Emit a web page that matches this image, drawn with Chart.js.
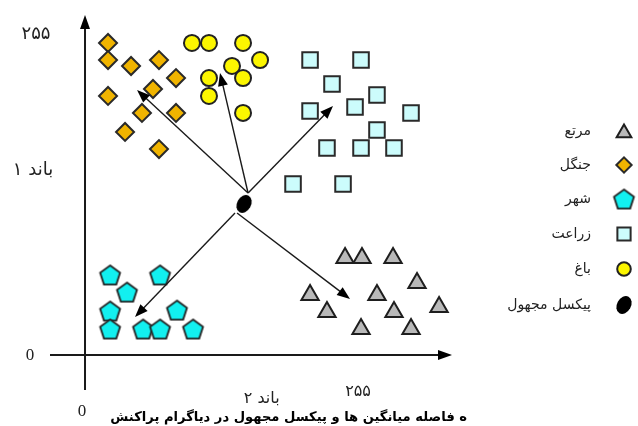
<!DOCTYPE html>
<html>
<head>
<meta charset="utf-8">
<script src="https://cdn.jsdelivr.net/npm/chart.js@4.4.0/dist/chart.umd.min.js"></script>
<style>
  body { margin: 0; background: #fff; }
  #scatterChart { display: block; }
</style>
</head>
<body>
<canvas id="scatterChart" width="638" height="426"></canvas>
<script>
// band 2 on x, band 1 on y (0..255)
var martaX = [242.9, 258.7, 287.7, 310.1, 210.2, 272.7, 226.0, 288.6, 330.7, 257.8, 304.5];
var martaY = [77.1, 77.1, 77.1, 57.2, 47.7, 47.7, 34.2, 34.2, 38.1, 20.7, 20.7];

var jangalX = [21.5, 21.5, 43.0, 69.1, 85.0, 21.5, 63.5, 53.2, 85.0, 37.4, 69.1];
var jangalY = [247.9, 234.3, 229.6, 234.3, 220.0, 205.8, 211.3, 192.3, 192.3, 177.2, 163.6];

var shahrX = [23.4, 70.1, 39.2, 23.4, 85.9, 23.4, 54.2, 70.1, 100.9];
var shahrY = [63.6, 63.6, 50.0, 35.0, 35.7, 20.7, 20.7, 20.7, 20.7];

var zeraatX = [210.2, 257.8, 230.7, 272.7, 252.2, 210.2, 304.5, 272.7, 226.0, 257.8, 288.6, 194.3, 241.0];
var zeraatY = [234.3, 234.3, 215.3, 206.5, 197.0, 193.8, 192.3, 178.7, 164.4, 164.4, 164.4, 135.8, 135.8];

var baghX = [99.9, 115.8, 147.6, 163.5, 137.3, 115.8, 147.6, 115.8, 147.6];
var baghY = [247.9, 247.9, 247.9, 234.3, 229.6, 220.0, 220.0, 205.8, 192.3];

var unknownX = [148.5];
var unknownY = [120.0];

// arrows from the unknown pixel towards each class
var arrowFromX = [152.3, 152.3, 152.3, 140.1, 142.0];
var arrowFromY = [128.7, 128.7, 128.7, 112.8, 112.8];
var arrowToX = [48.6, 126.1, 231.6, 46.7, 247.5];
var arrowToY = [210.5, 224.0, 197.8, 30.2, 44.5];

var classLabels = ["مرتع", "جنگل", "شهر", "زراعت", "باغ", "پیکسل مجهول"];
var axisTicks = ["0", "۲۵۵"];
var axisTitles = ["باند ۱", "باند ۲"];
var captionText = "ه فاصله میانگین ها و پیکسل مجهول در دیاگرام پراکنش";

function toPoints(xs, ys) {
  return xs.map(function (x, i) { return { x: x, y: ys[i] }; });
}

function makePentagon(R) {
  var c = document.createElement("canvas");
  var s = Math.ceil(R * 2 + 4);
  c.width = s; c.height = s;
  var g = c.getContext("2d");
  g.translate(s / 2, s / 2 + R * 0.1);
  g.beginPath();
  for (var i = 0; i < 5; i++) {
    var a = -Math.PI / 2 + i * 2 * Math.PI / 5;
    if (i === 0) g.moveTo(R * Math.cos(a), R * Math.sin(a));
    else g.lineTo(R * Math.cos(a), R * Math.sin(a));
  }
  g.closePath();
  g.fillStyle = "#12f0f0";
  g.fill();
  g.lineWidth = 1.8;
  g.strokeStyle = "#222";
  g.stroke();
  return c;
}

function makeBlob() {
  var c = document.createElement("canvas");
  c.width = 22; c.height = 24;
  var g = c.getContext("2d");
  g.translate(11, 12);
  g.rotate(0.5);
  g.beginPath();
  g.ellipse(0, 0, 7, 9.5, 0, 0, Math.PI * 2);
  g.fillStyle = "#000";
  g.fill();
  return c;
}

var pentagonImg = makePentagon(10.5);
var blobImg = makeBlob();

var diagramPlugin = {
  id: "diagram",
  afterDatasetsDraw: function (chart) {
    var ctx = chart.ctx;
    var xs = chart.scales.x;
    var ys = chart.scales.y;
    var px = function (v) { return xs.getPixelForValue(v); };
    var py = function (v) { return ys.getPixelForValue(v); };

    function arrow(x1, y1, x2, y2, head, width) {
      var ang = Math.atan2(y2 - y1, x2 - x1);
      ctx.beginPath();
      ctx.moveTo(x1, y1);
      ctx.lineTo(x2 - Math.cos(ang) * head * 0.8, y2 - Math.sin(ang) * head * 0.8);
      ctx.stroke();
      ctx.beginPath();
      ctx.moveTo(x2, y2);
      ctx.lineTo(x2 - head * Math.cos(ang) + width * Math.sin(ang), y2 - head * Math.sin(ang) - width * Math.cos(ang));
      ctx.lineTo(x2 - head * Math.cos(ang) - width * Math.sin(ang), y2 - head * Math.sin(ang) + width * Math.cos(ang));
      ctx.closePath();
      ctx.fill();
    }

    ctx.save();
    ctx.strokeStyle = "#1a1a1a";
    ctx.fillStyle = "#000";

    // axes
    ctx.lineWidth = 2;
    arrow(px(-32.7), py(0), px(342.8), py(0), 14, 5);
    arrow(px(0), py(-27.8), px(0), py(270.1), 14, 5);

    // distance arrows
    ctx.lineWidth = 1.4;
    for (var i = 0; i < arrowToX.length; i++) {
      arrow(px(arrowFromX[i]), py(arrowFromY[i]), px(arrowToX[i]), py(arrowToY[i]), 13, 5);
    }

    // axis labels
    ctx.fillStyle = "#222";
    ctx.textAlign = "center";
    ctx.textBaseline = "middle";
    ctx.font = "17px 'Liberation Serif'";
    ctx.fillText(axisTicks[0], px(0) - 55, py(0) + 1);
    ctx.fillText(axisTicks[0], px(0) - 3, py(0) + 57);
    ctx.direction = "rtl";
    ctx.font = "18px 'DejaVu Sans'";
    ctx.fillText(axisTicks[1], px(0) - 49, py(255));
    ctx.fillText(axisTitles[0], px(0) - 52, py(147));
    ctx.font = "16px 'DejaVu Sans'";
    ctx.fillText(axisTicks[1], px(255), py(0) + 37);
    ctx.fillText(axisTitles[1], px(165), py(0) + 44);

    // legend
    var rowY = [131, 165, 199, 234, 269, 305];
    ctx.textAlign = "right";
    ctx.font = "14px 'DejaVu Sans'";
    chart.data.datasets.forEach(function (ds, k) {
      ctx.fillStyle = "#222";
      ctx.fillText(classLabels[k], 591, rowY[k]);
      ctx.fillStyle = ds.backgroundColor;
      ctx.strokeStyle = ds.borderColor;
      ctx.lineWidth = ds.borderWidth;
      Chart.helpers.drawPoint(ctx, {
        pointStyle: ds.pointStyle,
        radius: ds.pointRadius * 0.85,
        rotation: 0,
        borderWidth: ds.borderWidth
      }, 624, rowY[k] + (k === 0 ? 2 : 0));
    });

    // caption (bold, cut off at bottom)
    ctx.fillStyle = "#000";
    ctx.font = "bold 16px 'DejaVu Sans'";
    var w = ctx.measureText(captionText).width;
    var size = 16 * 357 / w;
    ctx.font = "bold " + size.toFixed(1) + "px 'DejaVu Sans'";
    ctx.textAlign = "right";
    ctx.textBaseline = "alphabetic";
    ctx.fillText(captionText, 467, 421);
    ctx.restore();
  }
};

var scatterChart = new Chart(document.getElementById("scatterChart"), {
  type: "scatter",
  data: {
    datasets: [
      {
        label: classLabels[0],
        data: toPoints(martaX, martaY),
        pointStyle: "triangle",
        pointRadius: 10,
        backgroundColor: "#b9b9b9",
        borderColor: "#1e1e1e",
        borderWidth: 2,
      },
      {
        label: classLabels[1],
        data: toPoints(jangalX, jangalY),
        pointStyle: "rectRot",
        pointRadius: 9,
        backgroundColor: "#f0b400",
        borderColor: "#2a2a2a",
        borderWidth: 2,
      },
      {
        label: classLabels[2],
        data: toPoints(shahrX, shahrY),
        pointStyle: pentagonImg,
        pointRadius: 10,
        backgroundColor: "#12f0f0",
        borderColor: "#222",
        borderWidth: 1.8,
      },
      {
        label: classLabels[3],
        data: toPoints(zeraatX, zeraatY),
        pointStyle: "rect",
        pointRadius: 11,
        backgroundColor: "#ccfcfc",
        borderColor: "#2a2a2a",
        borderWidth: 2,
      },
      {
        label: classLabels[4],
        data: toPoints(baghX, baghY),
        pointStyle: "circle",
        pointRadius: 8,
        backgroundColor: "#fcf600",
        borderColor: "#222",
        borderWidth: 2,
      },
      {
        label: classLabels[5],
        data: toPoints(unknownX, unknownY),
        pointStyle: blobImg,
        pointRadius: 9,
        backgroundColor: "#000",
        borderColor: "#000",
        borderWidth: 0,
      },
    ],
  },
  options: {
    responsive: false,
    animation: false,
    events: [],
    devicePixelRatio: 1,
    clip: false,
    layout: { padding: 0, autoPadding: false },
    scales: {
      x: { type: "linear", min: -79.4, max: 516.5, display: false },
      y: { type: "linear", min: -56.4, max: 282.0, display: false },
    },
    plugins: {
      legend: { display: false },
      tooltip: { enabled: false },
    },
  },
  plugins: [diagramPlugin],
});
</script>
</body>
</html>
